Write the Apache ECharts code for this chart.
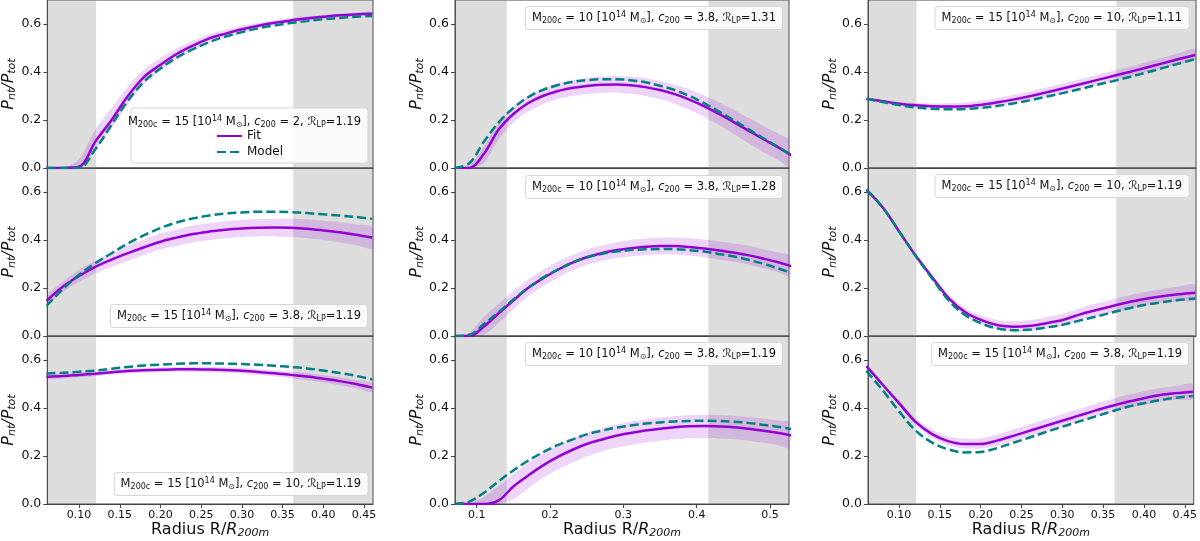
<!DOCTYPE html>
<html>
<head>
<meta charset="utf-8">
<script src="https://cdn.jsdelivr.net/npm/echarts@6/dist/echarts.min.js"></script>
<style>html,body{margin:0;padding:0;background:#fff}#main{width:1200px;height:541px}</style>
</head>
<body>
<div id="main"></div>
<script>
// radius samples (R/R200m), cols 1 & 3 share one grid, col 2 another
var rA = [0.06, 0.08, 0.10, 0.12, 0.14, 0.16, 0.18, 0.20, 0.22, 0.24, 0.26, 0.28, 0.30, 0.32, 0.34, 0.36, 0.38, 0.40, 0.42, 0.44, 0.46];
var rB = [0.07, 0.09, 0.11, 0.13, 0.15, 0.17, 0.19, 0.21, 0.23, 0.25, 0.27, 0.29, 0.31, 0.33, 0.35, 0.37, 0.39, 0.41, 0.43, 0.45, 0.47, 0.49, 0.51, 0.53];

// row 1 col 1
var fit11 = [0, 0, 0.005, 0.11, 0.20, 0.30, 0.38, 0.43, 0.475, 0.51, 0.54, 0.56, 0.578, 0.593, 0.605, 0.615, 0.623, 0.63, 0.636, 0.64, 0.643];
var hi11 = [0, 0, 0.035, 0.16, 0.25, 0.34, 0.41, 0.458, 0.498, 0.53, 0.557, 0.576, 0.592, 0.605, 0.616, 0.625, 0.632, 0.638, 0.644, 0.648, 0.651];
var lo11 = [0, 0, 0, 0.075, 0.165, 0.265, 0.35, 0.405, 0.453, 0.49, 0.522, 0.543, 0.563, 0.58, 0.593, 0.604, 0.613, 0.621, 0.627, 0.632, 0.635];
var model11 = [0, 0, 0, 0.078, 0.18, 0.28, 0.36, 0.415, 0.46, 0.495, 0.525, 0.548, 0.566, 0.582, 0.594, 0.604, 0.612, 0.62, 0.625, 0.63, 0.633];
// row 2 col 1
var fit21 = [0.146, 0.205, 0.25, 0.288, 0.318, 0.345, 0.37, 0.393, 0.41, 0.425, 0.435, 0.443, 0.448, 0.451, 0.452, 0.451, 0.447, 0.44, 0.432, 0.422, 0.41];
var hi21 = [0.166, 0.227, 0.275, 0.315, 0.348, 0.376, 0.402, 0.426, 0.444, 0.46, 0.47, 0.478, 0.483, 0.487, 0.489, 0.489, 0.486, 0.48, 0.474, 0.465, 0.455];
var lo21 = [0.126, 0.183, 0.225, 0.261, 0.288, 0.314, 0.338, 0.36, 0.376, 0.39, 0.4, 0.408, 0.413, 0.415, 0.415, 0.413, 0.408, 0.4, 0.39, 0.379, 0.365];
var model21 = [0.125, 0.195, 0.255, 0.303, 0.345, 0.385, 0.42, 0.45, 0.473, 0.49, 0.502, 0.51, 0.515, 0.518, 0.518, 0.516, 0.512, 0.507, 0.502, 0.496, 0.488];
// row 3 col 1
var fit31 = [0.53, 0.533, 0.538, 0.543, 0.549, 0.554, 0.557, 0.559, 0.561, 0.561, 0.56, 0.558, 0.555, 0.55, 0.545, 0.538, 0.531, 0.522, 0.512, 0.5, 0.485];
var hi31 = [0.54, 0.543, 0.548, 0.553, 0.559, 0.564, 0.567, 0.569, 0.571, 0.572, 0.571, 0.57, 0.567, 0.563, 0.558, 0.552, 0.546, 0.538, 0.529, 0.518, 0.505];
var lo31 = [0.52, 0.523, 0.528, 0.533, 0.539, 0.544, 0.547, 0.549, 0.551, 0.55, 0.549, 0.546, 0.543, 0.537, 0.531, 0.524, 0.516, 0.506, 0.495, 0.482, 0.466];
var model31 = [0.544, 0.547, 0.551, 0.556, 0.564, 0.571, 0.577, 0.581, 0.584, 0.586, 0.586, 0.585, 0.583, 0.58, 0.576, 0.571, 0.565, 0.556, 0.546, 0.534, 0.519];
// row 1 col 2
var fit12 = [0, 0, 0.06, 0.16, 0.225, 0.27, 0.3, 0.32, 0.333, 0.342, 0.347, 0.348, 0.345, 0.337, 0.325, 0.308, 0.285, 0.258, 0.226, 0.192, 0.157, 0.122, 0.088, 0.052];
var hi12 = [0, 0.01, 0.09, 0.19, 0.255, 0.3, 0.33, 0.352, 0.366, 0.375, 0.38, 0.382, 0.38, 0.374, 0.363, 0.348, 0.328, 0.303, 0.274, 0.243, 0.21, 0.177, 0.145, 0.11];
var lo12 = [0, 0, 0.02, 0.12, 0.19, 0.235, 0.265, 0.287, 0.3, 0.308, 0.313, 0.314, 0.31, 0.3, 0.287, 0.268, 0.243, 0.214, 0.18, 0.143, 0.105, 0.068, 0.035, 0];
var model12 = [0, 0.02, 0.11, 0.19, 0.25, 0.295, 0.325, 0.345, 0.358, 0.366, 0.37, 0.37, 0.366, 0.357, 0.343, 0.325, 0.3, 0.27, 0.236, 0.2, 0.163, 0.126, 0.09, 0.052];
// row 2 col 2
var fit22 = [0, 0, 0.04, 0.095, 0.148, 0.2, 0.24, 0.275, 0.305, 0.328, 0.345, 0.357, 0.366, 0.372, 0.375, 0.375, 0.371, 0.365, 0.357, 0.348, 0.337, 0.323, 0.308, 0.29];
var hi22 = [0, 0.015, 0.08, 0.135, 0.185, 0.235, 0.274, 0.308, 0.337, 0.36, 0.377, 0.39, 0.4, 0.406, 0.41, 0.41, 0.407, 0.402, 0.395, 0.386, 0.376, 0.363, 0.349, 0.332];
var lo22 = [0, 0, 0.005, 0.055, 0.11, 0.165, 0.206, 0.242, 0.273, 0.296, 0.313, 0.324, 0.332, 0.338, 0.34, 0.34, 0.335, 0.328, 0.319, 0.31, 0.298, 0.283, 0.267, 0.248];
var model22 = [0, 0.005, 0.05, 0.1, 0.152, 0.2, 0.242, 0.276, 0.305, 0.327, 0.342, 0.352, 0.358, 0.361, 0.3625, 0.362, 0.358, 0.352, 0.342, 0.332, 0.318, 0.302, 0.283, 0.262];
// row 3 col 2
var fit32 = [0, 0, 0, 0.015, 0.073, 0.118, 0.16, 0.195, 0.225, 0.25, 0.268, 0.284, 0.296, 0.306, 0.314, 0.32, 0.324, 0.325, 0.323, 0.32, 0.314, 0.306, 0.297, 0.285];
var hi32 = [0, 0, 0.03, 0.075, 0.125, 0.17, 0.21, 0.243, 0.272, 0.296, 0.315, 0.33, 0.343, 0.352, 0.36, 0.366, 0.37, 0.372, 0.371, 0.368, 0.363, 0.356, 0.348, 0.338];
var lo32 = [0, 0, 0, 0, 0.02, 0.065, 0.108, 0.143, 0.172, 0.198, 0.218, 0.234, 0.246, 0.256, 0.264, 0.27, 0.274, 0.275, 0.273, 0.27, 0.264, 0.256, 0.246, 0.232];
var model32 = [0, 0.01, 0.047, 0.095, 0.14, 0.18, 0.215, 0.245, 0.268, 0.29, 0.305, 0.318, 0.327, 0.335, 0.34, 0.344, 0.346, 0.347, 0.346, 0.343, 0.338, 0.33, 0.322, 0.312];
// row 1 col 3
var fit13 = [0.288, 0.278, 0.268, 0.261, 0.257, 0.256, 0.257, 0.264, 0.274, 0.286, 0.3, 0.316, 0.332, 0.349, 0.366, 0.383, 0.4, 0.418, 0.436, 0.454, 0.471];
var hi13 = [0.292, 0.284, 0.276, 0.271, 0.269, 0.27, 0.273, 0.281, 0.292, 0.305, 0.32, 0.336, 0.353, 0.37, 0.387, 0.404, 0.422, 0.44, 0.459, 0.478, 0.497];
var lo13 = [0.284, 0.272, 0.261, 0.252, 0.247, 0.245, 0.246, 0.251, 0.259, 0.27, 0.283, 0.298, 0.313, 0.33, 0.347, 0.364, 0.381, 0.399, 0.417, 0.434, 0.45];
var model13 = [0.288, 0.275, 0.262, 0.252, 0.247, 0.245, 0.246, 0.251, 0.259, 0.27, 0.283, 0.298, 0.313, 0.329, 0.346, 0.362, 0.379, 0.397, 0.416, 0.435, 0.454];
// row 2 col 3
var fit23 = [0.61, 0.535, 0.435, 0.335, 0.245, 0.158, 0.1, 0.066, 0.045, 0.039, 0.043, 0.054, 0.068, 0.09, 0.108, 0.125, 0.142, 0.155, 0.166, 0.174, 0.18];
var hi23 = [0.612, 0.538, 0.44, 0.342, 0.256, 0.172, 0.117, 0.085, 0.066, 0.062, 0.067, 0.079, 0.094, 0.116, 0.135, 0.153, 0.17, 0.184, 0.196, 0.206, 0.214];
var lo23 = [0.608, 0.532, 0.43, 0.328, 0.234, 0.144, 0.084, 0.048, 0.026, 0.018, 0.021, 0.031, 0.044, 0.065, 0.082, 0.098, 0.114, 0.127, 0.137, 0.144, 0.149];
var model23 = [0.61, 0.535, 0.435, 0.333, 0.24, 0.148, 0.088, 0.052, 0.031, 0.024, 0.027, 0.036, 0.048, 0.065, 0.081, 0.099, 0.116, 0.13, 0.141, 0.15, 0.156];
// row 3 col 3
var fit33 = [0.575, 0.497, 0.42, 0.343, 0.292, 0.262, 0.25, 0.25, 0.264, 0.284, 0.305, 0.326, 0.347, 0.368, 0.389, 0.408, 0.426, 0.441, 0.454, 0.462, 0.468];
var hi33 = [0.58, 0.505, 0.432, 0.358, 0.31, 0.282, 0.272, 0.274, 0.289, 0.31, 0.332, 0.354, 0.375, 0.396, 0.417, 0.436, 0.455, 0.47, 0.483, 0.493, 0.5];
var lo33 = [0.57, 0.49, 0.41, 0.33, 0.277, 0.245, 0.232, 0.231, 0.243, 0.262, 0.282, 0.302, 0.323, 0.344, 0.364, 0.383, 0.4, 0.414, 0.426, 0.434, 0.438];
var model33 = [0.555, 0.474, 0.386, 0.307, 0.257, 0.228, 0.215, 0.217, 0.233, 0.255, 0.277, 0.3, 0.322, 0.343, 0.364, 0.385, 0.405, 0.42, 0.433, 0.443, 0.45];

// panel annotations: [mass, c200, R_LP]
var mass = ['15', '15', '15', '10', '10', '10', '15', '15', '15'];
var conc = ['2', '3.8', '10', '3.8', '3.8', '3.8', '10', '10', '3.8'];
var rlp = ['1.19', '1.19', '1.19', '1.31', '1.28', '1.19', '1.11', '1.19', '1.19'];

var panels = [
  {r: 0, c: 0, fit: fit11, hi: hi11, lo: lo11, model: model11},
  {r: 1, c: 0, fit: fit21, hi: hi21, lo: lo21, model: model21},
  {r: 2, c: 0, fit: fit31, hi: hi31, lo: lo31, model: model31},
  {r: 0, c: 1, fit: fit12, hi: hi12, lo: lo12, model: model12},
  {r: 1, c: 1, fit: fit22, hi: hi22, lo: lo22, model: model22},
  {r: 2, c: 1, fit: fit32, hi: hi32, lo: lo32, model: model32},
  {r: 0, c: 2, fit: fit13, hi: hi13, lo: lo13, model: model13},
  {r: 1, c: 2, fit: fit23, hi: hi23, lo: lo23, model: model23},
  {r: 2, c: 2, fit: fit33, hi: hi33, lo: lo33, model: model33}
];

// layout
var colLeft = [44, 455, 868];
var colWidth = [329, 334, 328];
var rowTop = [0, 168, 336];
var rowH = 168;
var xRange = [[0.061, 0.461], [0.0704, 0.526], [0.062, 0.461]];
var xStep = [0.05, 0.1, 0.05];
var shade = [[0.121, 0.363], [0.141, 0.416], [0.121, 0.364]];
var colR = [rA, rB, rA];
// annotation box: right offset and top per panel
var boxRight = [832, 417, 11];
var boxTop = [[110, 304, 472], [6, 175, 342], [6, 174, 342]];

var FIT = '#9400d3', MODEL = '#008080';
var FONT = 'DejaVu Sans';

var grids = [], xAxes = [], yAxes = [], series = [], titles = [];

function pairs(xs, ys) {
  return xs.map(function (x, i) { return [x, ys[i]]; });
}

panels.forEach(function (p, k) {
  var xs = colR[p.c];
  grids.push({
    left: colLeft[p.c], top: rowTop[p.r], width: colWidth[p.c], height: rowH,
    show: true, borderColor: '#444', borderWidth: 1, backgroundColor: 'transparent'
  });
  var bottom = p.r === 2;
  xAxes.push({
    gridIndex: k, type: 'value', min: xRange[p.c][0], max: xRange[p.c][1],
    minInterval: xStep[p.c], maxInterval: xStep[p.c],
    axisLine: {show: true, lineStyle: {color: '#444', width: 1}},
    axisTick: {show: bottom, length: 4, lineStyle: {color: '#444'}},
    axisLabel: {
      show: bottom, showMinLabel: false, showMaxLabel: false, margin: 6,
      fontSize: 11, color: '#111', fontFamily: FONT,
      formatter: function (v) { return p.c === 1 ? v.toFixed(1) : v.toFixed(2); }
    },
    splitLine: {show: false},
    name: bottom ? 'Radius R/{i|R}{s|200m}' : '',
    nameLocation: 'middle', nameGap: 17,
    nameTextStyle: {
      fontSize: 16, color: '#111', fontFamily: FONT,
      rich: {i: {fontSize: 16, fontStyle: 'italic'}, s: {fontSize: 11, fontStyle: 'italic', padding: [6, 0, 0, 0]}}
    }
  });
  yAxes.push({
    gridIndex: k, type: 'value', min: 0, max: 0.7, interval: 0.2,
    axisLine: {show: true, lineStyle: {color: '#444', width: 1}},
    axisTick: {show: true, length: 4, lineStyle: {color: '#444'}},
    axisLabel: {
      showMaxLabel: false, margin: 6, fontSize: 12.5, color: '#111', fontFamily: FONT,
      formatter: function (v) { return v.toFixed(1); }
    },
    splitLine: {show: false},
    name: '{i|P}{s|nt}{i|/P}{s|tot}',
    nameLocation: 'middle', nameGap: 28,
    nameTextStyle: {
      fontSize: 16, color: '#111', fontFamily: FONT,
      rich: {i: {fontSize: 16, fontStyle: 'italic'}, s: {fontSize: 11, fontStyle: 'italic', padding: [6, 0, 0, 0]}}
    }
  });

  // fit uncertainty band: polygon between lo and hi, placed through the axes
  series.push({
    type: 'custom', name: 'band' + k, xAxisIndex: k, yAxisIndex: k, z: 2, silent: true,
    data: [[xs[0], p.fit[0]]],
    renderItem: function (params, api) {
      var up = xs.map(function (x, i) { return api.coord([x, p.hi[i]]); });
      var dn = xs.map(function (x, i) { return api.coord([x, p.lo[i]]); }).reverse();
      var cs = params.coordSys;
      return {
        type: 'group',
        clipPath: {type: 'rect', shape: {x: cs.x, y: cs.y, width: cs.width, height: cs.height}},
        children: [{
          type: 'polygon',
          shape: {points: up.concat(dn), smooth: 0.25},
          style: {fill: 'rgba(148,0,211,0.17)', stroke: null}
        }]
      };
    }
  });
  series.push({
    type: 'line', name: 'Fit', xAxisIndex: k, yAxisIndex: k, z: 3,
    data: pairs(xs, p.fit), symbol: 'none', smooth: 0.35,
    lineStyle: {color: FIT, width: 2.5}, itemStyle: {color: FIT},
    markArea: {
      silent: true, z: 1,
      itemStyle: {color: 'rgba(128,128,128,0.27)'},
      data: [
        [{xAxis: xRange[p.c][0]}, {xAxis: shade[p.c][0]}],
        [{xAxis: shade[p.c][1]}, {xAxis: xRange[p.c][1]}]
      ]
    }
  });
  series.push({
    type: 'line', name: 'Model', xAxisIndex: k, yAxisIndex: k, z: 4,
    data: pairs(xs, p.model), symbol: 'none', smooth: 0.35,
    lineStyle: {color: MODEL, width: 2.5, type: [9, 4]}, itemStyle: {color: MODEL}
  });

  var first = k === 0;
  titles.push({
    text: 'M{s|200c} = ' + mass[k] + ' [10{p|14} M{s|\u2299}], {i|c}{s|200} = ' + conc[k] +
      ', {i|\u211B}{s|LP}=' + rlp[k],
    right: boxRight[p.c], top: boxTop[p.c][p.r],
    padding: [5, 7, 5, 7],
    backgroundColor: first ? 'transparent' : 'rgba(255,255,255,0.85)',
    borderColor: first ? 'transparent' : '#d6d6d6', borderWidth: 1, borderRadius: 3,
    z: 10,
    textStyle: {
      fontSize: 11.5, fontWeight: 'normal', color: '#111', fontFamily: FONT,
      rich: {
        s: {fontSize: 8, padding: [5, 0, 0, 0]},
        p: {fontSize: 8, padding: [0, 0, 6, 0]},
        i: {fontSize: 11.5, fontStyle: 'italic'}
      }
    }
  });
});

var chart = echarts.init(document.getElementById('main'), null, {renderer: 'canvas'});
chart.setOption({
  animation: false,
  backgroundColor: '#fff',
  textStyle: {fontFamily: FONT},
  title: titles,
  legend: {
    data: ['Fit', 'Model'], orient: 'vertical',
    right: 832, top: 108,
    padding: [22, 85, 5, 85], itemGap: 4, itemWidth: 25, itemHeight: 12,
    itemStyle: {opacity: 0},
    backgroundColor: 'rgba(255,255,255,0.85)', borderColor: '#d6d6d6', borderWidth: 1, borderRadius: 3,
    textStyle: {fontSize: 12, color: '#111', fontFamily: FONT},
    selectedMode: false, z: 9
  },
  grid: grids,
  xAxis: xAxes,
  yAxis: yAxes,
  series: series
});
</script>
</body>
</html>
